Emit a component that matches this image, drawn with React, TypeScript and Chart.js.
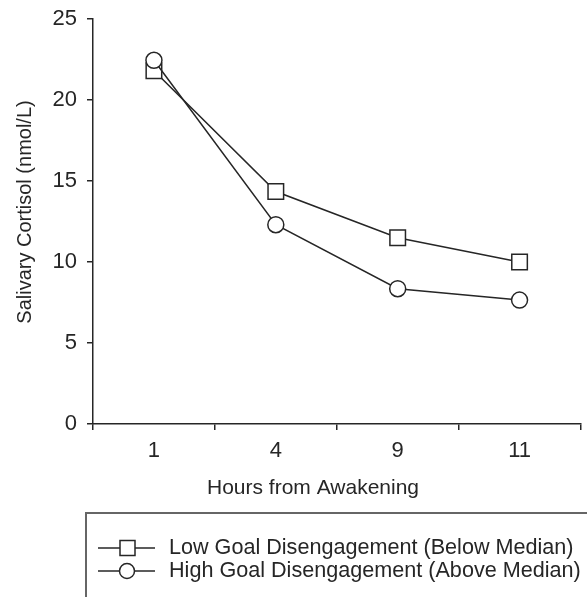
import React, { useEffect, useRef } from "react";
import { Chart, registerables } from "chart.js";

Chart.register(...registerables);

const hours = ["1", "4", "9", "11"];
const lowGoal = [21.8, 14.35, 11.5, 10.0];
const highGoal = [22.45, 12.3, 8.35, 7.65];
const lowLabel = "Low Goal Disengagement (Below Median)";
const highLabel = "High Goal Disengagement (Above Median)";
const yTitle = "Salivary Cortisol (nmol/L)";
const xTitle = "Hours from Awakening";

const FONT = "'Liberation Sans', Arial, Helvetica, sans-serif";
const INK = "#262626";

const decorPlugin = {
  id: "decor",
  afterDraw(chart: any) {
    const ctx = chart.ctx;
    ctx.save();
    // axis titles
    ctx.fillStyle = INK;
    ctx.textAlign = "center";
    ctx.textBaseline = "middle";
    ctx.font = `21px ${FONT}`;
    ctx.fillText(xTitle, 313, 488);
    ctx.save();
    ctx.translate(25, 212);
    ctx.rotate(-Math.PI / 2);
    ctx.font = `20px ${FONT}`;
    ctx.fillText(yTitle, 0, 0);
    ctx.restore();
    // legend box
    ctx.strokeStyle = "#666";
    ctx.lineWidth = 2;
    ctx.strokeRect(86, 513, 520, 120);
    const rows = [
      { label: lowLabel, style: "rect", y: 548 },
      { label: highLabel, style: "circle", y: 571 },
    ];
    for (const r of rows) {
      ctx.strokeStyle = INK;
      ctx.lineWidth = 1.5;
      ctx.beginPath();
      ctx.moveTo(98, r.y);
      ctx.lineTo(155, r.y);
      ctx.stroke();
      ctx.fillStyle = "#fff";
      ctx.beginPath();
      if (r.style === "rect") {
        ctx.rect(120, r.y - 7.5, 15, 15);
      } else {
        ctx.arc(127, r.y, 7.5, 0, Math.PI * 2);
      }
      ctx.fill();
      ctx.stroke();
      ctx.fillStyle = INK;
      ctx.font = `21.6px ${FONT}`;
      ctx.textBaseline = "middle";
      ctx.textAlign = "left";
      ctx.fillText(r.label, 169, r.y);
    }
    ctx.restore();
  },
};

export default function App() {
  const ref = useRef<HTMLCanvasElement | null>(null);
  useEffect(() => {
    document.body.style.margin = "0";
    const chart = new Chart(ref.current as HTMLCanvasElement, {
      type: "line",
      data: {
        labels: hours,
        datasets: [
          {
            label: lowLabel,
            data: lowGoal,
            order: 1,
            borderColor: INK,
            borderWidth: 1.5,
            backgroundColor: "#fff",
            pointStyle: "rect",
            pointRadius: 11,
            pointBorderColor: INK,
            pointBackgroundColor: "#fff",
            pointBorderWidth: 1.5,
            tension: 0,
          },
          {
            label: highLabel,
            data: highGoal,
            order: 0,
            borderColor: INK,
            borderWidth: 1.5,
            backgroundColor: "#fff",
            pointStyle: "circle",
            pointRadius: 8,
            pointBorderColor: INK,
            pointBackgroundColor: "#fff",
            pointBorderWidth: 1.5,
            tension: 0,
          },
        ],
      },
      options: {
        animation: false,
        responsive: false,
        layout: { padding: { left: 0, right: 0, top: 19, bottom: 83 } },
        plugins: { legend: { display: false }, tooltip: { enabled: false } },
        scales: {
          x: {
            type: "category",
            offset: true,
            afterFit: (s: any) => {
              s.height = 90;
              s.paddingLeft = 0;
              s.paddingRight = 0;
            },
            grid: {
              offset: true,
              drawOnChartArea: false,
              drawTicks: true,
              tickLength: 6,
              color: INK,
              lineWidth: 1.5,
            },
            border: { display: true, color: INK, width: 1.5 },
            ticks: { color: INK, font: { family: FONT, size: 22 }, padding: 8 },
            title: { display: false },
          },
          y: {
            min: 0,
            max: 25,
            afterFit: (s: any) => {
              s.width = 93;
              s.paddingTop = 0;
              s.paddingBottom = 0;
            },
            ticks: { stepSize: 5, color: INK, font: { family: FONT, size: 22 }, padding: 10 },
            grid: {
              drawOnChartArea: false,
              drawTicks: true,
              tickLength: 6,
              color: INK,
              lineWidth: 1.5,
            },
            border: { display: true, color: INK, width: 1.5 },
            title: { display: false },
          },
        },
      },
      plugins: [decorPlugin],
    } as any);
    return () => chart.destroy();
  }, []);
  return (
    <div style={{ width: 587, height: 597, overflow: "hidden" }}>
      <canvas ref={ref} width={593} height={597} style={{ display: "block" }} />
    </div>
  );
}
